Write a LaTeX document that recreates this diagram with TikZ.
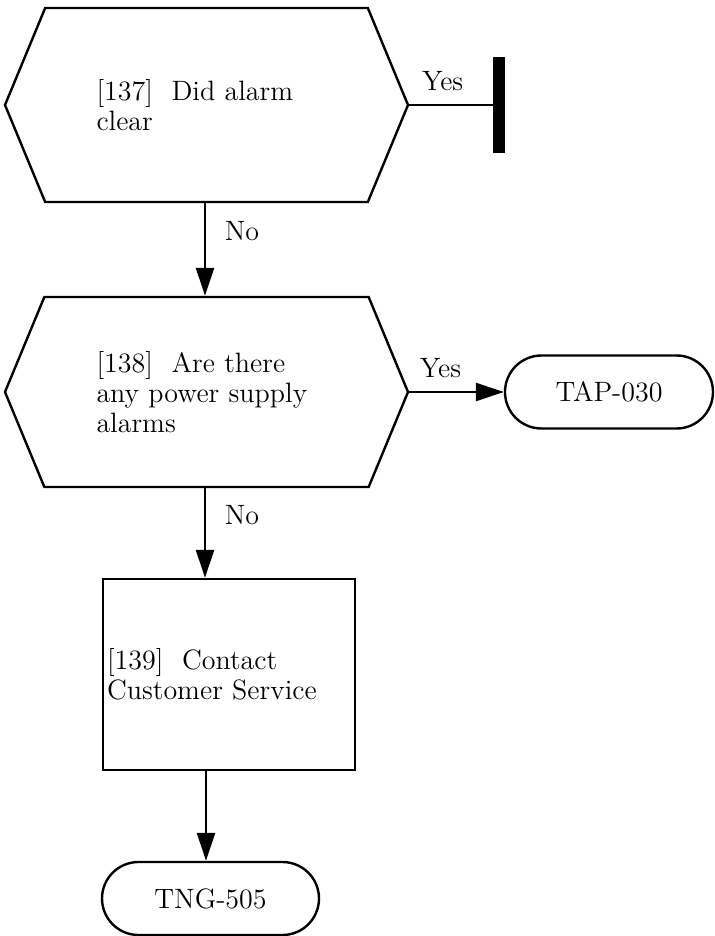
\documentclass[tikz,border=0pt]{standalone}
\usepackage{tikz}
\usetikzlibrary{arrows.meta,shapes.symbols,shapes.misc}

\tikzset{
    every node/.style={font=\fontsize{14}{15}\selectfont},
    flow/.style={line width=1.2pt, -{Triangle[length=14pt,width=9pt]}},
    link/.style={line width=1.2pt},
    decision/.style={draw, line width=1.2pt, signal, signal to=west and east,
        signal pointer angle=135, minimum width=201.5pt, inner sep=0pt,
        text width=110pt, align=left},
    action/.style={draw, line width=1.2pt, rectangle, minimum width=126pt,
        minimum height=95.5pt, inner sep=2pt, text width=122pt, align=left},
    terminal/.style={draw, line width=1.2pt, rounded rectangle,
        minimum height=36.5pt, inner sep=0pt},
    stopbar/.style={fill=black, draw=none, rectangle, minimum width=6pt,
        minimum height=48pt, inner sep=0pt}
}

\begin{document}
\begin{tikzpicture}[x=0.5pt, y=-0.5pt]
    \useasboundingbox (0,0) rectangle (714,936);

    % decisions
    \node[decision, minimum height=97pt] (q137) at (206.5,105)
        {[137]~~Did alarm\\clear};
    \node[decision, minimum height=95pt] (q138) at (206.5,392)
        {[138]~~Are there\\any power supply\\alarms};

    % action and exits
    \node[action] (r139) at (229,674.5) {[139]~~Contact\\Customer Service};
    \node[terminal, minimum width=104pt] (tap030) at (609,392) {TAP-030};
    \node[terminal, minimum width=108.5pt] (tng505) at (210.5,898.5) {TNG-505};
    \node[stopbar] (stop) at (499,105) {};

    % connectors
    \draw[link] (q137.east) -- node[pos=0.4, above=3pt] {Yes} (stop.west);
    \draw[flow] (q137.south -| 205,0) -- node[pos=0.3, right=6pt] {No}
        (q138.north -| 205,0);
    \draw[flow] (q138.east) -- node[pos=0.33, above=3pt] {Yes} (tap030.west);
    \draw[flow] (q138.south -| 205,0) -- node[pos=0.3, right=6pt] {No}
        (r139.north -| 205,0);
    \draw[flow] (r139.south -| 206,0) -- (tng505.north -| 206,0);
\end{tikzpicture}
\end{document}
